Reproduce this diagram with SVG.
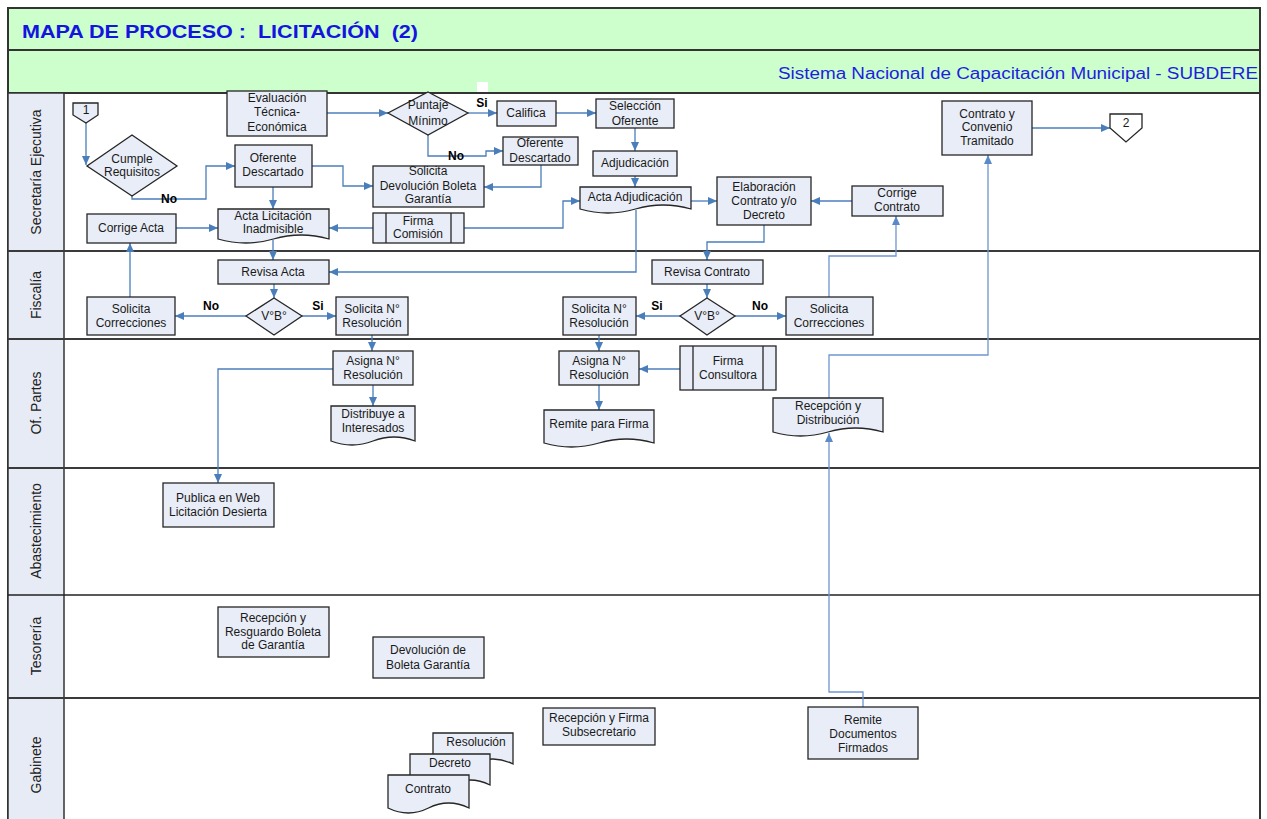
<svg xmlns="http://www.w3.org/2000/svg" width="1267" height="819" viewBox="0 0 1267 819">
<defs>
<marker id="ah" markerUnits="userSpaceOnUse" markerWidth="9" markerHeight="8" refX="9" refY="4" orient="auto"><path d="M0,0 L9,4 L0,8 Z" fill="#4A7EBB"/></marker>
<marker id="ah2" markerUnits="userSpaceOnUse" markerWidth="9" markerHeight="8" refX="9" refY="4" orient="auto"><path d="M0,0 L9,4 L0,8 Z" fill="#5B8AC8"/></marker>
</defs>
<style>
.bx{fill:#E8EDF7;stroke:#262626;stroke-width:1.3}
.t{font-family:"Liberation Sans",Arial,sans-serif;font-size:12px;fill:#1a1a1a;text-anchor:middle}
.b{font-weight:bold;fill:#000}
.c{fill:none;stroke:#4A7EBB;stroke-width:1.3;marker-end:url(#ah)}
.c2{fill:none;stroke:#6E96CF;stroke-width:1.3;marker-end:url(#ah2)}
.lane{stroke:#3a3a3a;stroke-width:2}
.ln{font-family:"Liberation Sans",Arial,sans-serif;font-size:14px;fill:#222;text-anchor:middle}
</style>
<rect x="0" y="0" width="1267" height="819" fill="#fff"/>
<g id="header">
<rect x="8" y="8" width="1252" height="85" fill="#CCFFCC" stroke="#333" stroke-width="2"/>
<line x1="8" y1="50" x2="1260" y2="50" stroke="#333" stroke-width="2"/>
<text x="22" y="38" xml:space="preserve" font-family="Liberation Sans,Arial,sans-serif" font-size="19" font-weight="bold" fill="#1414E0" textLength="396" lengthAdjust="spacingAndGlyphs">MAPA DE PROCESO :  LICITACIÓN  (2)</text>
<text x="778" y="79" font-family="Liberation Sans,Arial,sans-serif" font-size="16" fill="#1E1EE0" textLength="480" lengthAdjust="spacingAndGlyphs">Sistema Nacional de Capacitación Municipal - SUBDERE</text>
<rect x="477" y="82" width="11" height="11" fill="#fff"/>
</g>
<g id="lanes">
<rect x="8" y="93" width="1252" height="730" fill="#fff" stroke="#333" stroke-width="2"/>
<rect x="8" y="93" width="56" height="730" fill="#E6EBF5" stroke="#333" stroke-width="1.5"/>
<line class="lane" x1="8" y1="251" x2="1260" y2="251"/>
<line class="lane" x1="8" y1="339" x2="1260" y2="339"/>
<line class="lane" x1="8" y1="468" x2="1260" y2="468"/>
<line x1="8" y1="595" x2="1260" y2="595" stroke="#222" stroke-width="1.3"/>
<line class="lane" x1="8" y1="698" x2="1260" y2="698"/>
<text class="ln" transform="translate(41,172) rotate(-90)">Secretaría Ejecutiva</text>
<text class="ln" transform="translate(41,295) rotate(-90)">Fiscalía</text>
<text class="ln" transform="translate(41,403) rotate(-90)">Of. Partes</text>
<text class="ln" transform="translate(41,531) rotate(-90)">Abastecimiento</text>
<text class="ln" transform="translate(41,646) rotate(-90)">Tesorería</text>
<text class="ln" transform="translate(41,765) rotate(-90)">Gabinete</text>
</g>
<g id="connectors">
<path class="c" d="M86,123 V165"/>
<path class="c" d="M132,196 V199 H206 V166 H235"/>
<path class="c" d="M327,113 H388"/>
<path class="c" d="M468,113 H497"/>
<path class="c" d="M556,113 H596"/>
<path class="c" d="M635,128 V151"/>
<path class="c" d="M635,176 V187"/>
<path class="c" d="M428,135 V156 H486 V151 H503"/>
<path class="c" d="M541,165 V187 H484"/>
<path class="c" d="M312,166 H343 V186 H373"/>
<path class="c" d="M273,187 V209"/>
<path class="c" d="M176,228 H218"/>
<path class="c" d="M373,228 H329"/>
<path class="c" d="M464,228 H563 V201 H580"/>
<path class="c" d="M636,210 V272 H329"/>
<path class="c" d="M273,240 V260"/>
<path class="c" d="M691,201 H717"/>
<path class="c" d="M852,201 H811"/>
<path class="c" d="M1032,128 H1110"/>
<path class="c" d="M764,225 V242 H707 V260"/>
<path class="c2" d="M829,297 V256 H896 V216"/>
<path class="c" d="M274,284 V298"/>
<path class="c" d="M246,316 H175"/>
<path class="c" d="M302,316 H336"/>
<path class="c" d="M130,297 V243"/>
<path class="c" d="M372,335 V351"/>
<path class="c" d="M707,284 V298"/>
<path class="c" d="M680,316 H636"/>
<path class="c" d="M735,316 H786"/>
<path class="c" d="M599,335 V351"/>
<path class="c" d="M373,385 V406"/>
<path class="c" d="M333,369 H218 V483"/>
<path class="c" d="M680,369 H639"/>
<path class="c" d="M599,385 V410"/>
<path class="c2" d="M829,398 V355 H988 V155"/>
<path class="c2" d="M863,707 V692 H829 V433"/>
</g>
<g id="labels">
<text class="t b" x="169" y="203">No</text>
<text class="t b" x="482" y="107">Si</text>
<text class="t b" x="456" y="160">No</text>
<text class="t b" x="211" y="310">No</text>
<text class="t b" x="318" y="310">Si</text>
<text class="t b" x="657" y="310">Si</text>
<text class="t b" x="760" y="310">No</text>
</g>
<g id="n_conn1"><polygon class="bx" points="73,103 98,103 98,115 86,123 73,115"/><text class="t" x="86" y="114" font-size="11">1</text></g>
<g id="n_cumple"><polygon class="bx" points="132,135 177,166 132,196 87,166"/><text class="t" x="132" y="163">Cumple</text><text class="t" x="132" y="176">Requisitos</text></g>
<g id="n_eval"><rect class="bx" x="227" y="91" width="100" height="45"/><text class="t" x="277" y="102">Evaluación</text><text class="t" x="277" y="116">Técnica-</text><text class="t" x="277" y="131">Económica</text></g>
<g id="n_ofdesc1"><rect class="bx" x="235" y="145" width="77" height="42"/><text class="t" x="273" y="162">Oferente</text><text class="t" x="273" y="176">Descartado</text></g>
<g id="n_actalic"><path class="bx" d="M218,209 H329 V239 Q301,231 273.5,239 T218,239 Z"/><text class="t" x="273" y="220">Acta Licitación</text><text class="t" x="273" y="233">Inadmisible</text></g>
<g id="n_corrigeacta"><rect class="bx" x="87" y="214" width="89" height="29"/><text class="t" x="131" y="232">Corrige Acta</text></g>
<g id="n_puntaje"><polygon class="bx" points="428,92 468,113 428,135 388,113"/><text class="t" x="428" y="109">Puntaje</text><text class="t" x="428" y="125">Mínimo</text></g>
<g id="n_califica"><rect class="bx" x="497" y="101" width="59" height="25"/><text class="t" x="526" y="117">Califica</text></g>
<g id="n_seleccion"><rect class="bx" x="596" y="99" width="78" height="29"/><text class="t" x="635" y="110">Selección</text><text class="t" x="635" y="125">Oferente</text></g>
<g id="n_ofdesc2"><rect class="bx" x="503" y="137" width="75" height="28"/><text class="t" x="540" y="147">Oferente</text><text class="t" x="540" y="162">Descartado</text></g>
<g id="n_soldev"><rect class="bx" x="373" y="166" width="111" height="41"/><text class="t" x="428" y="175">Solicita</text><text class="t" x="428" y="190">Devolución Boleta</text><text class="t" x="428" y="203">Garantía</text></g>
<g id="n_firmacom"><rect class="bx" x="373" y="213" width="91" height="30"/><line x1="386" y1="213" x2="386" y2="243" stroke="#262626" stroke-width="1.3"/><line x1="451" y1="213" x2="451" y2="243" stroke="#262626" stroke-width="1.3"/><text class="t" x="418" y="225">Firma</text><text class="t" x="418" y="238">Comisión</text></g>
<g id="n_adjud"><rect class="bx" x="593" y="151" width="84" height="25"/><text class="t" x="635" y="167">Adjudicación</text></g>
<g id="n_actaadj"><path class="bx" d="M580,187 H691 V209 Q663,201 635.5,209 T580,209 Z"/><text class="t" x="635" y="201">Acta Adjudicación</text></g>
<g id="n_elab"><rect class="bx" x="717" y="177" width="94" height="48"/><text class="t" x="764" y="191">Elaboración</text><text class="t" x="764" y="205">Contrato y/o</text><text class="t" x="764" y="219">Decreto</text></g>
<g id="n_corrcontr"><rect class="bx" x="852" y="186" width="91" height="30"/><text class="t" x="897" y="197">Corrige</text><text class="t" x="897" y="211">Contrato</text></g>
<g id="n_contrconv"><rect class="bx" x="942" y="101" width="90" height="54"/><text class="t" x="987" y="118">Contrato y</text><text class="t" x="987" y="131">Convenio</text><text class="t" x="987" y="145">Tramitado</text></g>
<g id="n_conn2"><polygon fill="#fff" stroke="#262626" stroke-width="1.3" points="1110,114 1142,114 1142,128 1126,142 1110,128"/><text class="t" x="1126" y="127" font-size="11">2</text></g>
<g id="n_revisaacta"><rect class="bx" x="218" y="260" width="111" height="24"/><text class="t" x="273" y="276">Revisa Acta</text></g>
<g id="n_vb1"><polygon class="bx" points="274,298 302,316 274,335 246,316"/><text class="t" x="274" y="320">V°B°</text></g>
<g id="n_solcorr1"><rect class="bx" x="87" y="297" width="88" height="38"/><text class="t" x="131" y="313">Solicita</text><text class="t" x="131" y="327">Correcciones</text></g>
<g id="n_solres1"><rect class="bx" x="336" y="297" width="72" height="38"/><text class="t" x="372" y="313">Solicita N°</text><text class="t" x="372" y="327">Resolución</text></g>
<g id="n_revisacontr"><rect class="bx" x="652" y="260" width="111" height="24"/><text class="t" x="707" y="276">Revisa Contrato</text></g>
<g id="n_vb2"><polygon class="bx" points="707,298 735,316 707,335 680,316"/><text class="t" x="707" y="320">V°B°</text></g>
<g id="n_solres2"><rect class="bx" x="563" y="297" width="73" height="38"/><text class="t" x="599" y="313">Solicita N°</text><text class="t" x="599" y="327">Resolución</text></g>
<g id="n_solcorr2"><rect class="bx" x="786" y="297" width="87" height="38"/><text class="t" x="829" y="313">Solicita</text><text class="t" x="829" y="327">Correcciones</text></g>
<g id="n_asigna1"><rect class="bx" x="333" y="351" width="80" height="34"/><text class="t" x="373" y="365">Asigna N°</text><text class="t" x="373" y="379">Resolución</text></g>
<g id="n_distrib"><path class="bx" d="M331,406 H415 V441 Q394,433 373,441 T331,441 Z"/><text class="t" x="373" y="418">Distribuye a</text><text class="t" x="373" y="432">Interesados</text></g>
<g id="n_asigna2"><rect class="bx" x="559" y="351" width="80" height="34"/><text class="t" x="599" y="365">Asigna N°</text><text class="t" x="599" y="379">Resolución</text></g>
<g id="n_firmacons"><rect class="bx" x="680" y="346" width="96" height="44"/><line x1="693" y1="346" x2="693" y2="390" stroke="#262626" stroke-width="1.3"/><line x1="763" y1="346" x2="763" y2="390" stroke="#262626" stroke-width="1.3"/><text class="t" x="728" y="365">Firma</text><text class="t" x="728" y="379">Consultora</text></g>
<g id="n_remitefirma"><path class="bx" d="M544,410 H654 V443 Q626.5,435 599,443 T544,443 Z"/><text class="t" x="599" y="428">Remite para Firma</text></g>
<g id="n_recepdist"><path class="bx" d="M773,398 H883 V432 Q855.5,424 828,432 T773,432 Z"/><text class="t" x="828" y="410">Recepción y</text><text class="t" x="828" y="424">Distribución</text></g>
<g id="n_publica"><rect class="bx" x="163" y="483" width="111" height="44"/><text class="t" x="218" y="502">Publica en Web</text><text class="t" x="218" y="516">Licitación Desierta</text></g>
<g id="n_recepresg"><rect class="bx" x="218" y="607" width="111" height="50"/><text class="t" x="273" y="622">Recepción y</text><text class="t" x="273" y="636">Resguardo Boleta</text><text class="t" x="273" y="649">de Garantía</text></g>
<g id="n_devol"><rect class="bx" x="373" y="637" width="111" height="41"/><text class="t" x="428" y="654">Devolución de</text><text class="t" x="428" y="669">Boleta Garantía</text></g>
<g id="n_resolucion"><path class="bx" d="M433,733 H513 V764 Q493,754 473,764 T433,764 Z"/><text class="t" x="476" y="746">Resolución</text></g>
<g id="n_decreto"><path class="bx" d="M410,754 H490 V785 Q470,775 450,785 T410,785 Z"/><text class="t" x="450" y="767">Decreto</text></g>
<g id="n_contratodoc"><path class="bx" d="M388,775 H469 V808 Q448.5,798 428.5,808 T388,808 Z"/><text class="t" x="428" y="793">Contrato</text></g>
<g id="n_recepfirma"><rect class="bx" x="543" y="708" width="112" height="37"/><text class="t" x="599" y="722">Recepción y Firma</text><text class="t" x="599" y="736">Subsecretario</text></g>
<g id="n_remitedocs"><rect class="bx" x="808" y="707" width="110" height="52"/><text class="t" x="863" y="724">Remite</text><text class="t" x="863" y="738">Documentos</text><text class="t" x="863" y="752">Firmados</text></g>
</svg>
